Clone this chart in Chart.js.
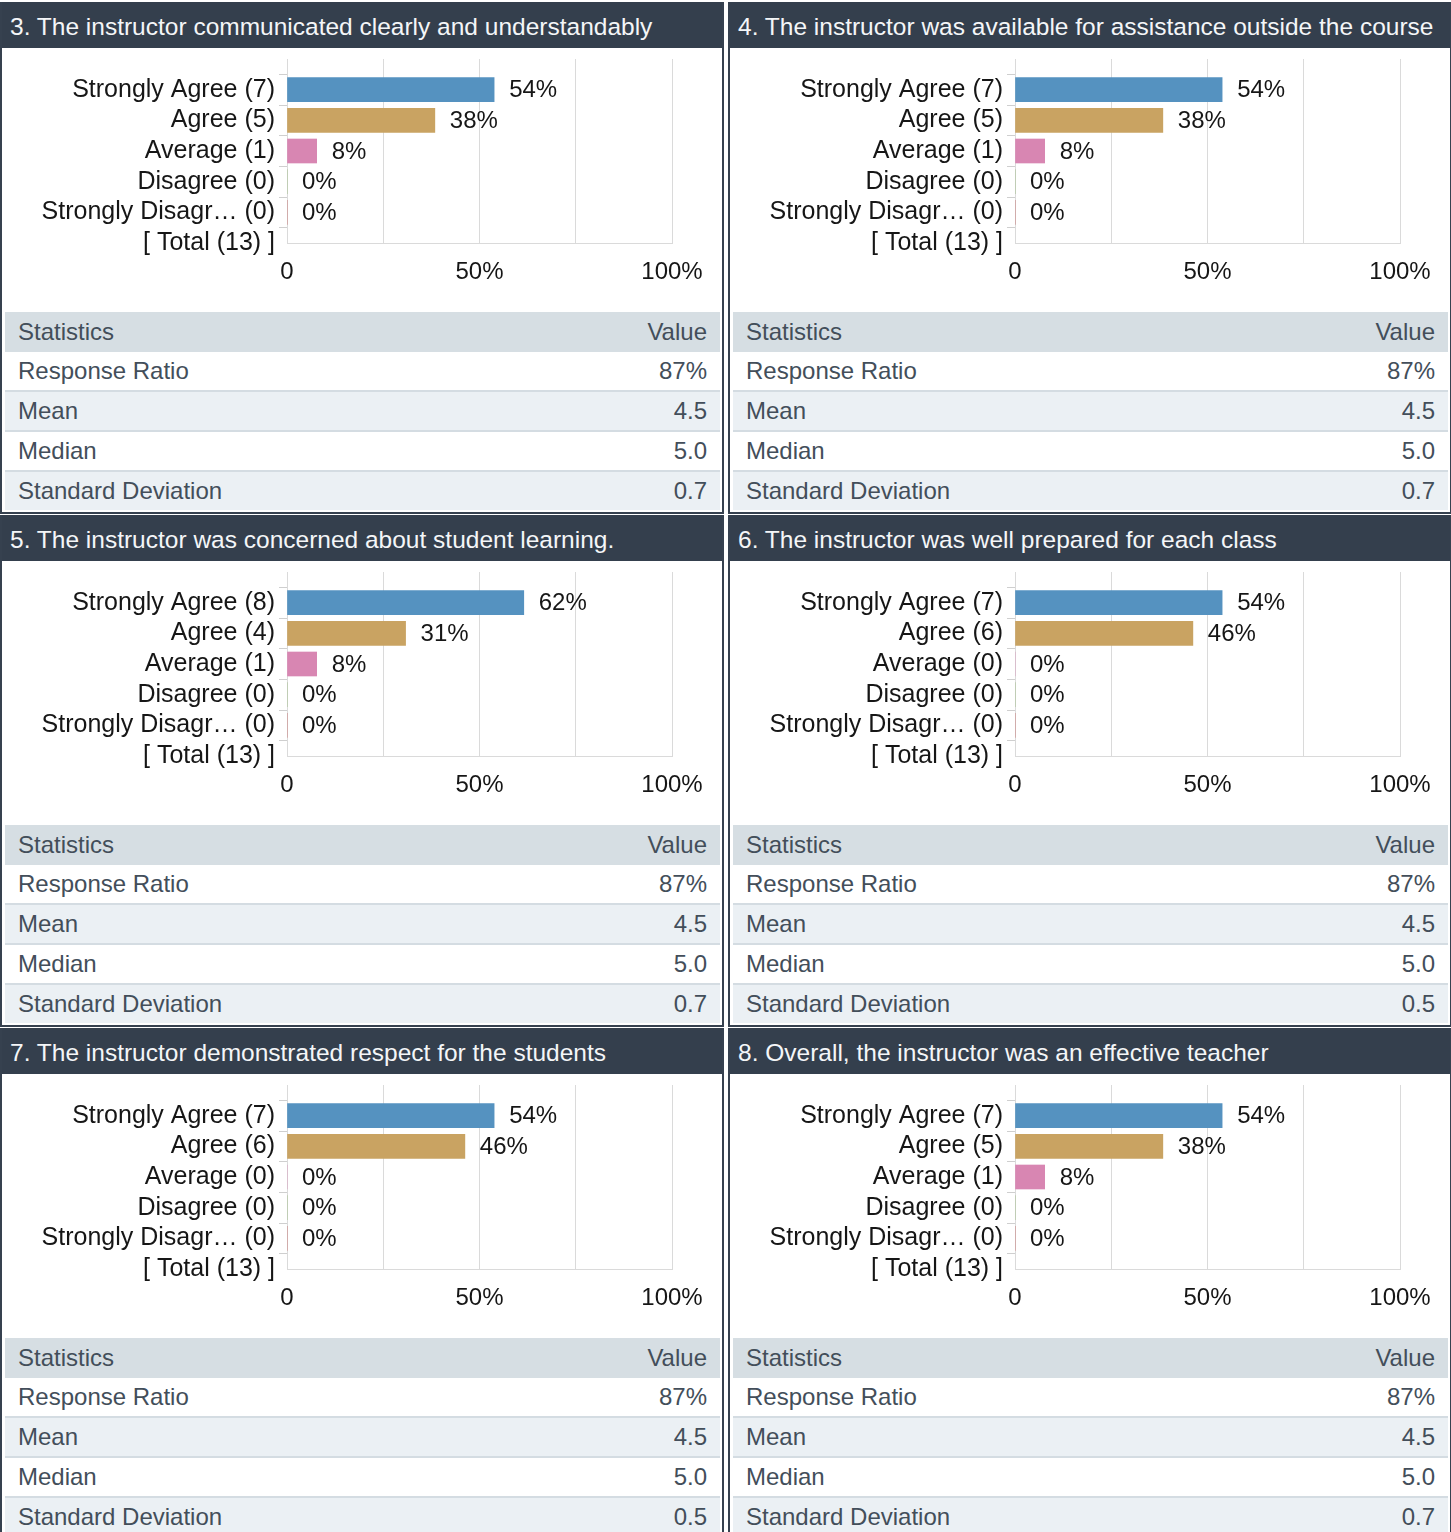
<!DOCTYPE html>
<html>
<head>
<meta charset="utf-8">
<script src="https://cdn.jsdelivr.net/npm/chart.js@4.4.0/dist/chart.umd.min.js"></script>
<style>
  html, body { margin: 0; padding: 0; background: #fff; }
  body { width: 1451px; height: 1532px; overflow: hidden; position: relative; font-family: "Liberation Sans", Arial, sans-serif; }
  .panel { position: absolute; width: 724px; height: 512px; box-sizing: border-box; border: 2px solid #36414f; border-top: 0; background: #fff; }
  .head { height: 46px; background: #343f4d; color: #f4f6f8; font-size: 24.5px; line-height: 46px; padding: 2px 0 0 8px; box-sizing: border-box; white-space: nowrap; overflow: hidden; }
  .chart { height: 264px; }
  .chart canvas { display: block; }
  table { border-collapse: collapse; margin: 0 1px 0 3px; width: 715px; font-size: 24px; color: #434e5a; }
  th, td { padding: 0 13px; text-align: left; font-weight: normal; height: 38px; }
  th { background: #d6dee3; height: 40px; }
  .v { text-align: right; }
  tr.s td { border-top: 2px solid #d4dce2; }
  tr.alt td { background: #ebf0f4; }
</style>
</head>
<body>
<script>
// survey questions, one panel each
const titles = [
  "3. The instructor communicated clearly and understandably",
  "4. The instructor was available for assistance outside the course",
  "5. The instructor was concerned about student learning.",
  "6. The instructor was well prepared for each class",
  "7. The instructor demonstrated respect for the students",
  "8. Overall, the instructor was an effective teacher"
];
const categories = ["Strongly Agree", "Agree", "Average", "Disagree", "Strongly Disagr\u2026"];
const counts = [
  [7, 5, 1, 0, 0],
  [7, 5, 1, 0, 0],
  [8, 4, 1, 0, 0],
  [7, 6, 0, 0, 0],
  [7, 6, 0, 0, 0],
  [7, 5, 1, 0, 0]
];
const totals = [13, 13, 13, 13, 13, 13];
const percents = [
  [53.8, 38.4, 7.7, 0, 0],
  [53.8, 38.4, 7.7, 0, 0],
  [61.5, 30.8, 7.7, 0, 0],
  [53.8, 46.2, 0, 0, 0],
  [53.8, 46.2, 0, 0, 0],
  [53.8, 38.4, 7.7, 0, 0]
];
const statLabels = ["Response Ratio", "Mean", "Median", "Standard Deviation"];
const statValues = [
  ["87%", "4.5", "5.0", "0.7"],
  ["87%", "4.5", "5.0", "0.7"],
  ["87%", "4.5", "5.0", "0.7"],
  ["87%", "4.5", "5.0", "0.5"],
  ["87%", "4.5", "5.0", "0.5"],
  ["87%", "4.5", "5.0", "0.7"]
];
const xTickValues = [0, 50, 100];
const xTickLabels = ["0", "50%", "100%"];
const barColors = ["#5592c0", "#c9a362", "#d886b2", "#8cb26a", "#c0504d"];

const FONT = { family: "Liberation Sans, Arial, sans-serif", size: 24 };
const CAT_FONT = { family: "Liberation Sans, Arial, sans-serif", size: 25 };
const TEXT = "#161616";
const GRID = "#dadada";

// value labels to the right of each bar
const valueLabels = {
  id: "valueLabels",
  afterDatasetsDraw(chart) {
    const ctx = chart.ctx;
    const meta = chart.getDatasetMeta(0);
    const data = chart.data.datasets[0].data;
    ctx.save();
    ctx.font = FONT.size + "px " + FONT.family;
    ctx.fillStyle = TEXT;
    ctx.textAlign = "left";
    ctx.textBaseline = "middle";
    meta.data.forEach((bar, i) => {
      if (data[i] == null) return;
      ctx.fillText(Math.round(data[i]) + "%", bar.x + 15, bar.y + 1);
    });
    ctx.restore();
  }
};

titles.forEach((title, p) => {
  const col = p % 2, row = Math.floor(p / 2);
  const panel = document.createElement("div");
  panel.className = "panel";
  panel.style.left = (col * 728) + "px";
  panel.style.top = (2 + row * 513) + "px";

  const head = document.createElement("div");
  head.className = "head";
  head.textContent = title;
  panel.appendChild(head);

  const box = document.createElement("div");
  box.className = "chart";
  const canvas = document.createElement("canvas");
  canvas.width = 720;
  canvas.height = 264;
  box.appendChild(canvas);
  panel.appendChild(box);

  let html = '<tr><th>Statistics</th><th class="v">Value</th></tr>';
  statLabels.forEach((lab, i) => {
    html += '<tr class="' + (i > 0 ? "s " : "") + (i % 2 ? "alt" : "") + '"><td>' + lab +
      '</td><td class="v">' + statValues[p][i] + "</td></tr>";
  });
  const table = document.createElement("table");
  table.innerHTML = html;
  panel.appendChild(table);
  document.body.appendChild(panel);

  const labels = [""].concat(categories.map((c, i) => c + " (" + counts[p][i] + ")"), ["[ Total (" + totals[p] + ") ]"]);
  const values = [null].concat(percents[p], [null]);

  new Chart(canvas, {
    type: "bar",
    data: {
      labels: labels,
      datasets: [{
        data: values,
        backgroundColor: ["transparent"].concat(barColors, ["transparent"]),
        barThickness: 24,
        borderWidth: 0
      }]
    },
    options: {
      indexAxis: "y",
      responsive: false,
      animation: false,
      layout: { padding: { top: 11, right: 50, left: 0, bottom: 0 } },
      plugins: { legend: { display: false }, tooltip: { enabled: false } },
      scales: {
        x: {
          min: 0,
          max: 100,
          ticks: {
            stepSize: 25,
            autoSkip: false,
            maxRotation: 0,
            padding: 15,
            font: FONT,
            color: TEXT,
            callback: v => {
              const k = xTickValues.indexOf(v);
              return k >= 0 ? xTickLabels[k] : "";
            }
          },
          grid: { color: GRID, drawTicks: false },
          border: { color: GRID },
          afterFit: s => { s.height = 69; s.paddingLeft = 0; s.paddingRight = 0; }
        },
        y: {
          offset: false,
          ticks: { autoSkip: false, padding: 4, font: CAT_FONT, color: TEXT },
          grid: {
            drawOnChartArea: false,
            tickLength: 8,
            color: c => (c.index === 0 ? "transparent" : "#cfcfcf")
          },
          border: { color: GRID },
          afterFit: s => { s.width = 285; s.paddingTop = 0; s.paddingBottom = 0; }
        }
      }
    },
    plugins: [valueLabels]
  });
});
</script>
</body>
</html>
